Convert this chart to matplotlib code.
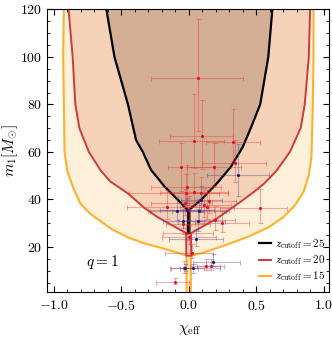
import matplotlib
matplotlib.use("Agg")
import matplotlib.pyplot as plt
import numpy as np
from matplotlib.ticker import MultipleLocator

plt.rcParams['mathtext.fontset'] = 'cm'
plt.rcParams['font.family'] = 'serif'
plt.rcParams['font.serif'] = ['cmr10', 'DejaVu Serif']

# boundaries of the allowed regions, (chi_eff, m1)
black_left_chi = [-0.61, -0.55, -0.45, -0.39, -0.34, -0.28, -0.18, -0.084, -0.02, 0.0]
black_left_m = [120, 100, 80, 65, 60, 52.5, 45.5, 40, 36.2, 35.5]
black_right_chi = [0.0, 0.015, 0.09, 0.21, 0.31, 0.40, 0.46, 0.53, 0.59, 0.62]
black_right_m = [35.5, 36.2, 39.7, 46.8, 53.5, 62, 70, 80, 100, 120]

red_left_chi = [-0.89, -0.86, -0.84, -0.81, -0.74, -0.65, -0.58, -0.45, -0.33, -0.23, -0.12, 0.0]
red_left_m = [120, 100, 80, 70, 60, 52, 47.5, 42.5, 36.5, 32.5, 29, 25.8]
red_right_chi = [0.0, 0.07, 0.21, 0.36, 0.48, 0.56, 0.65, 0.75, 0.83, 0.86, 0.89, 0.90]
red_right_m = [25.8, 27.5, 32, 38, 43, 46.7, 52, 60, 70, 80, 100, 120]

orange_left_chi = [-0.925, -0.93, -0.925, -0.92, -0.90, -0.85, -0.80, -0.73, -0.58, -0.45, -0.33, -0.2, -0.084, 0.0]
orange_left_m = [120, 100, 80, 60, 52, 44, 38, 34, 27.8, 24, 21.5, 19.5, 17.6, 16.3]
orange_right_chi = [0.0, 0.09, 0.2, 0.31, 0.45, 0.6, 0.7, 0.78, 0.85, 0.89, 0.91, 0.92, 0.925, 0.925]
orange_right_m = [16.3, 17.3, 19.3, 21.5, 24.5, 28.5, 32.5, 37, 43, 50, 58, 80, 100, 120]

# events: chi, chi_lo, chi_hi, m1, m_lo, m_hi
red_chi = [0.07, 0.10, 0.04, 0.33, 0.34, -0.057, 0.19, -0.01, -0.022, 0.04, 0.089, -0.158,
           0.0, 0.133, 0.15, 0.195, 0.25, 0.53, 0.0, -0.02, 0.027, -0.035, 0.13, 0.165,
           -0.10, -0.04, 0.11, -0.03]
red_chi_lo = [0.35, 0.24, 0.26, 0.20, 0.24, 0.10, 0.20, 0.27, 0.42, 0.25, 0.20, 0.30,
              0.30, 0.20, 0.20, 0.15, 0.20, 0.30, 0.20, 0.17, 0.20, 0.10, 0.12, 0.10,
              0.14, 0.13, 0.15, 0.25]
red_chi_hi = [0.33, 0.23, 0.22, 0.20, 0.23, 0.25, 0.20, 0.25, 0.25, 0.25, 0.20, 0.30,
              0.30, 0.20, 0.20, 0.15, 0.20, 0.20, 0.20, 0.20, 0.15, 0.15, 0.10, 0.10,
              0.10, 0.20, 0.20, 0.20]
red_m = [91, 66.8, 64.4, 64, 55.2, 53.7, 53.7, 45.3, 42.8, 43.2, 42.5, 36.9,
         35.5, 36.9, 39.3, 31.3, 30.2, 36.2, 24.3, 25.7, 17.3, 11.2, 12.1, 12.1,
         5.3, 29.5, 37.6, 38.5]
red_m_lo = [22, 14, 11, 8, 8, 10, 8, 7, 6, 6, 5, 5,
            4, 5, 5, 4, 4, 6, 3, 3, 2, 2, 2, 2,
            1, 4, 5, 5]
red_m_hi = [25, 15, 20, 14, 10, 10, 10, 9, 8, 8, 7, 7,
            6, 7, 6, 6, 5, 8, 5, 4, 4, 3, 3, 3,
            1.5, 6, 7, 6]

blue_chi = [0.365, -0.084, -0.01, 0.077, -0.04, 0.072, 0.094, 0.052, 0.18, 0.035, -0.03]
blue_chi_lo = [0.23, 0.20, 0.20, 0.20, 0.15, 0.15, 0.15, 0.20, 0.15, 0.10, 0.10]
blue_chi_hi = [0.23, 0.20, 0.20, 0.20, 0.15, 0.20, 0.15, 0.20, 0.20, 0.20, 0.10]
blue_m = [50.3, 35.2, 35.5, 35.0, 30.9, 30.9, 39.7, 23.4, 13.8, 11.0, 11.0]
blue_m_lo = [9, 4, 4, 4, 3, 4, 5, 3, 2, 2, 1]
blue_m_hi = [13, 6, 5, 5, 5, 5, 6, 4, 3, 2, 2]


def region(left_chi, left_m, right_chi, right_m, half_width, m_bottom):
    # polygon: left curve downwards, narrow strip at chi=0, right curve upwards
    xs = list(left_chi[:-1]) + [-half_width, -half_width, half_width, half_width] + list(right_chi[1:])
    ys = list(left_m[:-1]) + [left_m[-1], m_bottom, m_bottom, right_m[0]] + list(right_m[1:])
    xs = [xs[0]] + xs + [xs[-1]]
    ys = [125] + ys + [125]
    return xs, ys


fig = plt.figure(figsize=(3.32, 3.37), dpi=100)
ax = fig.add_axes([0.1416, 0.1335, 0.8494, 0.8385])

ox, oy = region(orange_left_chi, orange_left_m, orange_right_chi, orange_right_m, 0.016, -5)
rx, ry = region(red_left_chi, red_left_m, red_right_chi, red_right_m, 0.018, orange_left_m[-1])
bx, by = region(black_left_chi, black_left_m, black_right_chi, black_right_m, 0.005, red_left_m[-1])

ax.fill(ox, oy, color='#FEF0D9', zorder=1)
ax.plot(ox, oy, color='#FDB12E', lw=1.5, zorder=2)
ax.fill(rx, ry, color='#F6D2B8', zorder=1.1)
ax.plot(rx, ry, color='#CF3B3B', lw=1.4, zorder=2.1)
ax.fill(bx, by, color='#D5AF95', zorder=1.2)
ax.plot(bx, by, color='black', lw=1.6, zorder=2.2)

ax.errorbar(red_chi, red_m, xerr=[red_chi_lo, red_chi_hi], yerr=[red_m_lo, red_m_hi],
            fmt='none', ecolor='#E33A3A', alpha=0.4, elinewidth=0.8, capsize=1.8,
            capthick=0.8, zorder=3)
ax.errorbar(blue_chi, blue_m, xerr=[blue_chi_lo, blue_chi_hi], yerr=[blue_m_lo, blue_m_hi],
            fmt='none', ecolor='#4A4A96', alpha=0.4, elinewidth=0.8, capsize=1.8,
            capthick=0.8, zorder=3)
ax.scatter(red_chi, red_m, s=5, color='#E0102A', zorder=4, linewidths=0)
ax.scatter(blue_chi, blue_m, s=5, color='#1C1C78', zorder=4, linewidths=0)

# legend
ax.plot([], [], color='black', lw=1.6, label=r'$z_{\rm cutoff}=25$')
ax.plot([], [], color='#CF3B3B', lw=1.4, label=r'$z_{\rm cutoff}=20$')
ax.plot([], [], color='#FDB12E', lw=1.5, label=r'$z_{\rm cutoff}=15$')
ax.legend(loc='lower left', bbox_to_anchor=(0.715, -0.005), frameon=False, fontsize=8,
          handlelength=1.1, handletextpad=0.35, labelspacing=0.2)

ax.text(-0.64, 13.6, r'$q=1$', fontsize=11, ha='center', va='center')

ax.set_xlim(-1.05, 1.04)
ax.set_ylim(1, 120)
ax.set_xticks([-1.0, -0.5, 0.0, 0.5, 1.0])
ax.set_xticklabels([r'$-1.0$', r'$-0.5$', r'$0.0$', r'$0.5$', r'$1.0$'])
ax.set_yticks([20, 40, 60, 80, 100, 120])
ax.set_yticklabels([r'$20$', r'$40$', r'$60$', r'$80$', r'$100$', r'$120$'])
ax.xaxis.set_minor_locator(MultipleLocator(0.1))
ax.yaxis.set_minor_locator(MultipleLocator(5))
ax.tick_params(which='both', direction='in', top=True, right=True, labelsize=10)
ax.tick_params(which='major', length=4, width=0.8)
ax.tick_params(which='minor', length=2, width=0.6)
ax.tick_params(axis='x', pad=5)
ax.set_xlabel(r'$\chi_{\rm eff}$', fontsize=11)
ax.set_ylabel(r'$m_1[M_{\odot}]$', fontsize=11)
ax.xaxis.set_label_coords(0.507, -0.11)
ax.yaxis.set_label_coords(-0.095, 0.5)

fig.savefig('out.png', dpi=100)
